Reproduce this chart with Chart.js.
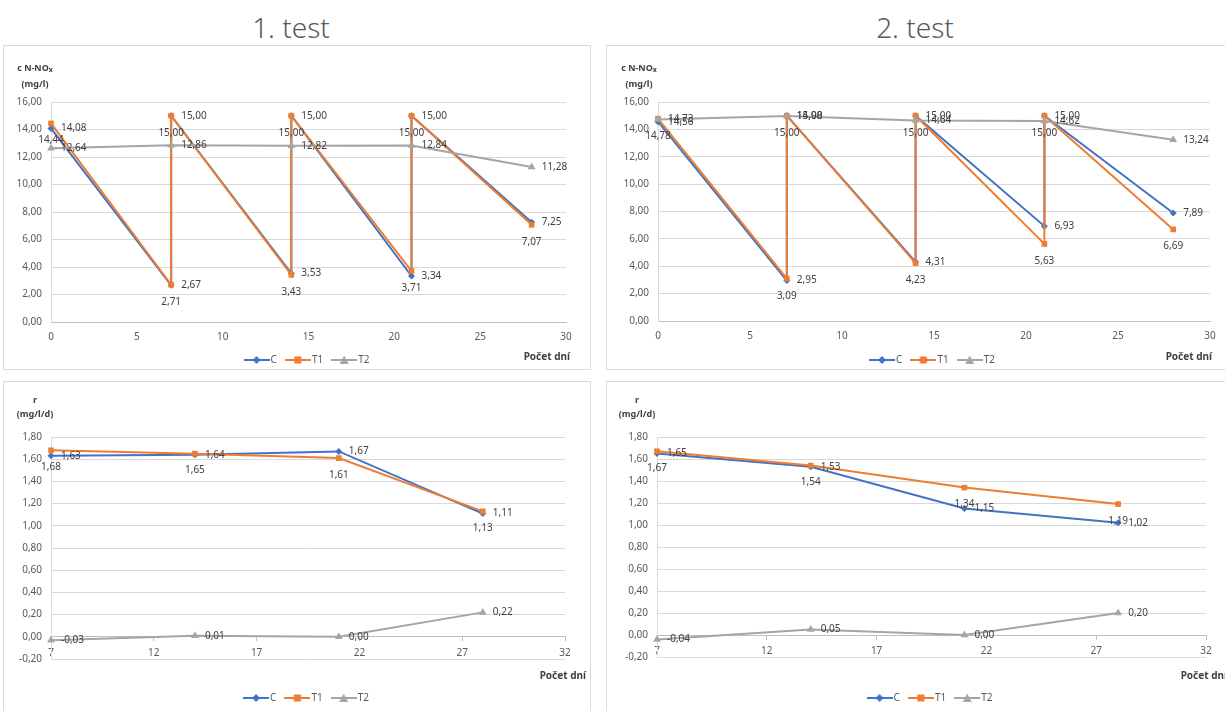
<!DOCTYPE html>
<html>
<head>
<meta charset="utf-8">
<script src="https://cdn.jsdelivr.net/npm/chart.js@4.4.1/dist/chart.umd.min.js"></script>
<style>
body{margin:0;width:1225px;height:711px;overflow:hidden;background:#fff;font-family:"Noto Sans",sans-serif;position:relative}
.title{position:absolute;top:8px;font-size:28px;font-weight:300;color:#595959;transform:translateX(-50%);white-space:nowrap}
.box{position:absolute;border:1px solid #d9d9d9;box-sizing:border-box}
canvas{position:absolute}
.ytitle{position:absolute;font-size:9px;font-weight:bold;color:#404040;text-align:center;line-height:14px;transform:translateX(-50%);white-space:nowrap}
.ytitle sub{font-size:7px;vertical-align:-1px}
.xtitle{position:absolute;font-size:10px;font-weight:bold;color:#404040;transform:translate(-100%,-50%);white-space:nowrap}
</style>
</head>
<body>
<div class="title" style="left:291px">1. test</div>
<div class="title" style="left:915px">2. test</div>

<div class="box" style="left:3px;top:45px;width:588px;height:325px"></div>
<div class="box" style="left:606px;top:45px;width:630px;height:325px"></div>
<div class="box" style="left:3px;top:381px;width:588px;height:340px"></div>
<div class="box" style="left:606px;top:381px;width:630px;height:340px"></div>

<canvas id="c1" width="587" height="330" style="left:3px;top:45px"></canvas>
<canvas id="c2" width="625" height="330" style="left:606px;top:45px"></canvas>
<canvas id="c3" width="587" height="332" style="left:3px;top:381px"></canvas>
<canvas id="c4" width="625" height="332" style="left:606px;top:381px"></canvas>

<div class="ytitle" style="left:35px;top:61px">c N-NO<sub>x</sub><br>(mg/l)</div>
<div class="ytitle" style="left:639px;top:61px">c N-NO<sub>x</sub><br>(mg/l)</div>
<div class="ytitle" style="left:35px;top:393px">r<br>(mg/l/d)</div>
<div class="ytitle" style="left:637px;top:393px">r<br>(mg/l/d)</div>

<div class="xtitle" style="left:570px;top:356px">Počet dní</div>
<div class="xtitle" style="left:1212px;top:356px">Počet dní</div>
<div class="xtitle" style="left:586px;top:675px">Počet dní</div>
<div class="xtitle" style="left:1227px;top:675px">Počet dní</div>

<script>
// koncentrace N-NOx, dny s doplněním (vertikální skoky na 15)
const concDays = [0, 7, 7, 14, 14, 21, 21, 28];
const concDaysT2 = [0, 7, 14, 21, 28];
const conc1C  = [14.08, 2.67, 15.00, 3.53, 15.00, 3.34, 15.00, 7.25];
const conc1T1 = [14.44, 2.71, 15.00, 3.43, 15.00, 3.71, 15.00, 7.07];
const conc1T2 = [12.64, 12.86, 12.82, 12.84, 11.28];
const conc2C  = [14.56, 2.95, 15.00, 4.31, 15.00, 6.93, 15.00, 7.89];
const conc2T1 = [14.78, 3.09, 15.00, 4.23, 15.00, 5.63, 15.00, 6.69];
const conc2T2 = [14.73, 14.98, 14.64, 14.62, 13.24];

// rychlost r
const rateDays = [7, 14, 21, 28];
const rate1C  = [1.63, 1.64, 1.67, 1.11];
const rate1T1 = [1.68, 1.65, 1.61, 1.13];
const rate1T2 = [-0.03, 0.01, 0.00, 0.22];
const rate2C  = [1.65, 1.53, 1.15, 1.02];
const rate2T1 = [1.67, 1.54, 1.34, 1.19];
const rate2T2 = [-0.04, 0.05, 0.00, 0.20];

// osy
const concXTicks = [0, 5, 10, 15, 20, 25, 30];
const concYTicks = [0, 2, 4, 6, 8, 10, 12, 14, 16];
const rateXTicks = [7, 12, 17, 22, 27, 32];
const rateYTicks = [-0.2, 0, 0.2, 0.4, 0.6, 0.8, 1.0, 1.2, 1.4, 1.6, 1.8];

const FONT = '"Noto Sans", sans-serif';
const colC = '#4472C4', colT1 = '#ED7D31', colT2 = '#A5A5A5';

function fmt(v) {
    if (Math.abs(v) < 1e-9) v = 0;
    return v.toFixed(2).replace('.', ',');
}

function pts(xs, ys) {
    return xs.map((x, i) => ({x: x, y: ys[i]}));
}

// ikonka do legendy: čára + značka
function legendIcon(color, style) {
    const cv = document.createElement('canvas');
    cv.width = 26; cv.height = 10;
    const c = cv.getContext('2d');
    c.strokeStyle = color; c.fillStyle = color; c.lineWidth = 2;
    c.beginPath(); c.moveTo(0, 5); c.lineTo(26, 5); c.stroke();
    c.beginPath();
    if (style === 'rectRot') { c.moveTo(13, 1); c.lineTo(17, 5); c.lineTo(13, 9); c.lineTo(9, 5); }
    else if (style === 'rect') { c.rect(9.5, 1.5, 7, 7); }
    else { c.moveTo(13, 0.5); c.lineTo(17.5, 9); c.lineTo(8.5, 9); }
    c.closePath(); c.fill();
    return cv;
}

const dataLabels = {
    id: 'dataLabels',
    afterDatasetsDraw(chart) {
        const ctx = chart.ctx;
        ctx.save();
        ctx.font = '10px ' + FONT;
        ctx.fillStyle = '#404040';
        ctx.textBaseline = 'middle';
        chart.data.datasets.forEach((ds, i) => {
            const meta = chart.getDatasetMeta(i);
            meta.data.forEach((el, j) => {
                const txt = fmt(ds.data[j].y);
                if (ds.labelPos === 'below') {
                    ctx.textAlign = 'center';
                    ctx.fillText(txt, el.x, el.y + 17);
                } else {
                    ctx.textAlign = 'left';
                    ctx.fillText(txt, el.x + 10, el.y);
                }
            });
        });
        ctx.restore();
    }
};

function makeChart(id, p) {
    const datasets = [
        {label: 'C', data: pts(p.xs, p.c), borderColor: colC, backgroundColor: colC, pointStyle: 'rectRot', pointRadius: 3.5, order: 3, labelPos: 'right'},
        {label: 'T1', data: pts(p.xs, p.t1), borderColor: colT1, backgroundColor: colT1, pointStyle: 'rect', pointRadius: 4, order: 2, labelPos: 'below'},
        {label: 'T2', data: pts(p.xs2, p.t2), borderColor: colT2, backgroundColor: colT2, pointStyle: 'triangle', pointRadius: 4.5, order: 1, labelPos: 'right'}
    ];
    datasets.forEach(d => {
        d.showLine = true; d.borderWidth = 2; d.pointBorderWidth = 0; d.clip = 10;
        d.pointHoverRadius = d.pointRadius;
    });

    return new Chart(document.getElementById(id), {
        type: 'scatter',
        data: {datasets: datasets},
        options: {
            responsive: false,
            animation: false,
            layout: {padding: {left: 0, right: p.padR, top: p.padT, bottom: 0}},
            scales: {
                x: {
                    type: 'linear',
                    position: {y: 0},
                    min: p.xTicks[0],
                    max: p.xTicks[p.xTicks.length - 1],
                    afterBuildTicks: s => { s.ticks = p.xTicks.map(v => ({value: v})); },
                    grid: {drawOnChartArea: false, drawTicks: p.xTickLen > 0, tickLength: p.xTickLen, color: '#bfbfbf'},
                    border: {display: true, color: '#bfbfbf', width: 1},
                    ticks: {padding: p.xPad, color: '#595959', font: {family: FONT, size: 10}, maxRotation: 0}
                },
                y: {
                    min: p.yTicks[0],
                    max: p.yTicks[p.yTicks.length - 1],
                    afterBuildTicks: s => { s.ticks = p.yTicks.map(v => ({value: v})); },
                    afterFit: s => { s.width = p.yW; },
                    grid: {color: '#d9d9d9', drawTicks: false},
                    border: {display: true, color: '#d9d9d9'},
                    ticks: {padding: 9, color: '#595959', font: {family: FONT, size: 10}, callback: v => fmt(v)}
                }
            },
            plugins: {
                tooltip: {enabled: false},
                legend: {
                    position: 'bottom',
                    fullSize: false,
                    title: {display: true, text: '', font: {size: 10}, padding: {top: p.legGap - 12, bottom: 0}},
                    labels: {
                        usePointStyle: true,
                        pointStyleWidth: 18,
                        padding: 12,
                        color: '#595959',
                        font: {family: FONT, size: 10},
                        generateLabels: chart => chart.data.datasets.map((ds, i) => ({
                            text: ds.label,
                            pointStyle: legendIcon(ds.borderColor, ds.pointStyle),
                            fillStyle: ds.borderColor,
                            strokeStyle: ds.borderColor,
                            lineWidth: 0,
                            hidden: false,
                            fontColor: '#595959',
                            datasetIndex: i
                        }))
                    }
                }
            }
        },
        plugins: [dataLabels]
    });
}

makeChart('c1', {xs: concDays, xs2: concDaysT2, c: conc1C, t1: conc1T1, t2: conc1T2,
    xTicks: concXTicks, yTicks: concYTicks, padR: 24, padT: 57, yW: 48, xTickLen: 0, xPad: 9, legGap: 21});
makeChart('c2', {xs: concDays, xs2: concDaysT2, c: conc2C, t1: conc2T1, t2: conc2T2,
    xTicks: concXTicks, yTicks: concYTicks, padR: 21, padT: 57, yW: 52, xTickLen: 0, xPad: 9, legGap: 22});
makeChart('c3', {xs: rateDays, xs2: rateDays, c: rate1C, t1: rate1T1, t2: rate1T2,
    xTicks: rateXTicks, yTicks: rateYTicks, padR: 25, padT: 56, yW: 48, xTickLen: 4, xPad: 6, legGap: 22});
makeChart('c4', {xs: rateDays, xs2: rateDays, c: rate2C, t1: rate2T1, t2: rate2T2,
    xTicks: rateXTicks, yTicks: rateYTicks, padR: 25, padT: 56, yW: 51, xTickLen: 4, xPad: 6, legGap: 24});
</script>
</body>
</html>
